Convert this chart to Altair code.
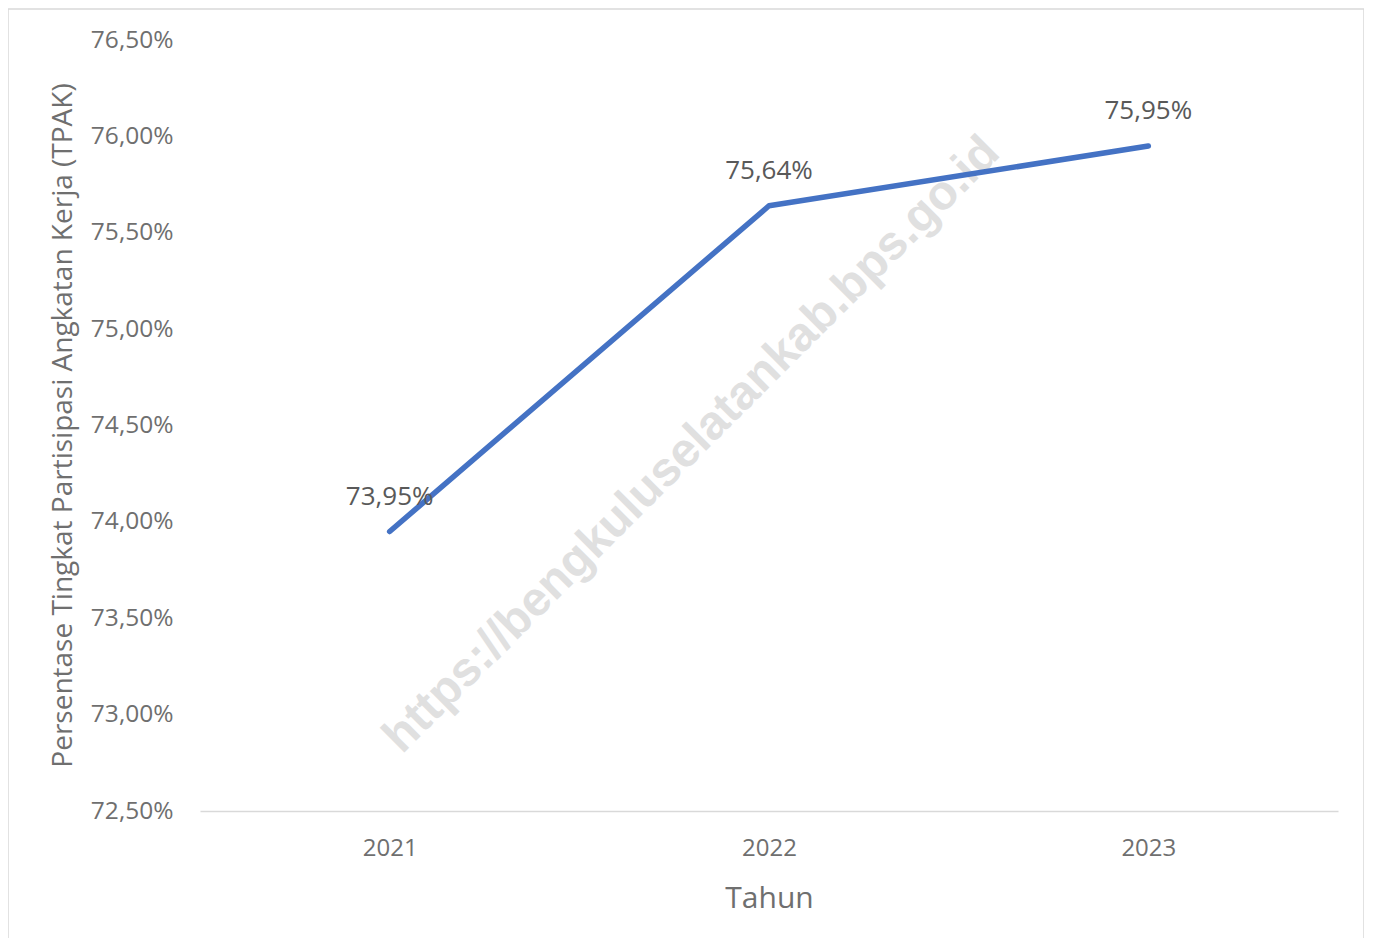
import altair as alt
import pandas as pd

years = ["2021", "2022", "2023"]
tpak = [73.95, 75.64, 75.95]
y_ticks = [72.5, 73.0, 73.5, 74.0, 74.5, 75.0, 75.5, 76.0, 76.5]
watermark_text = ["https://bengkuluselatankab.bps.go.id"]

df = pd.DataFrame({"Tahun": years, "TPAK": tpak})
df["label"] = [f"{v:.2f}".replace(".", ",") + "%" for v in tpak]

W, H = 1138, 771
FONT = "Open Sans"
AXIS_GRAY = "#6f6f6f"

x_enc = alt.X(
    "Tahun:N",
    sort=years,
    scale=alt.Scale(paddingInner=0, paddingOuter=0),
    axis=alt.Axis(
        title="Tahun",
        labelAngle=0,
        labelFont=FONT,
        labelFontSize=24,
        labelColor=AXIS_GRAY,
        labelPadding=25,
        ticks=False,
        domain=True,
        domainColor="#d9d9d9",
        domainWidth=1.5,
        grid=False,
        titleFont=FONT,
        titleFontSize=30,
        titleFontWeight="normal",
        titleColor=AXIS_GRAY,
        titleY=87,
        titleBaseline="middle",
    ),
)

y_enc = alt.Y(
    "TPAK:Q",
    scale=alt.Scale(domain=[72.5, 76.5], nice=False, zero=False),
    axis=alt.Axis(
        title="Persentase Tingkat Partisipasi Angkatan Kerja (TPAK)",
        values=y_ticks,
        labelExpr="replace(format(datum.value, '.2f'), '.', ',') + '%'",
        labelFont=FONT,
        labelFontSize=24.5,
        labelColor=AXIS_GRAY,
        labelPadding=27,
        ticks=False,
        domain=False,
        grid=False,
        titleFont=FONT,
        titleFontSize=28,
        titleFontWeight="normal",
        titleColor=AXIS_GRAY,
        titleX=-137,
        titleY=385,
        titleBaseline="middle",
    ),
)

base = alt.Chart(df)

line = base.mark_line(color="#4472C4", strokeWidth=5.5, strokeCap="round", strokeJoin="round").encode(
    x=x_enc, y=y_enc
)

labels = base.mark_text(
    font=FONT, fontSize=26, color="#595959", dy=-35, baseline="middle", align="center"
).encode(x=alt.X("Tahun:N", sort=years), y="TPAK:Q", text="label:N")

wm = alt.Chart(pd.DataFrame({"t": watermark_text})).mark_text(
    font="Liberation Sans",
    fontSize=48,
    fontWeight="bold",
    color="#e0e0e0",
    angle=315,
    align="center",
    baseline="middle",
).encode(x=alt.value(492), y=alt.value(405), text="t:N")

border = alt.Chart(pd.DataFrame({"t": watermark_text})).mark_rect(
    fill=None, stroke="#d9d9d9", strokeWidth=1.5, clip=False
).encode(x=alt.value(-192), x2=alt.value(1164), y=alt.value(-31), y2=alt.value(960))

chart = (
    alt.layer(wm, border, line, labels)
    .properties(
        width=W,
        height=H,
        background="white",
        autosize=alt.AutoSizeParams(type="none"),
        padding={"left": 192, "top": 32, "right": 26, "bottom": 127},
    )
    .configure_view(strokeWidth=0, stroke="transparent")
)

chart.save("out.html", embed_options={"renderer": "svg", "actions": False})
